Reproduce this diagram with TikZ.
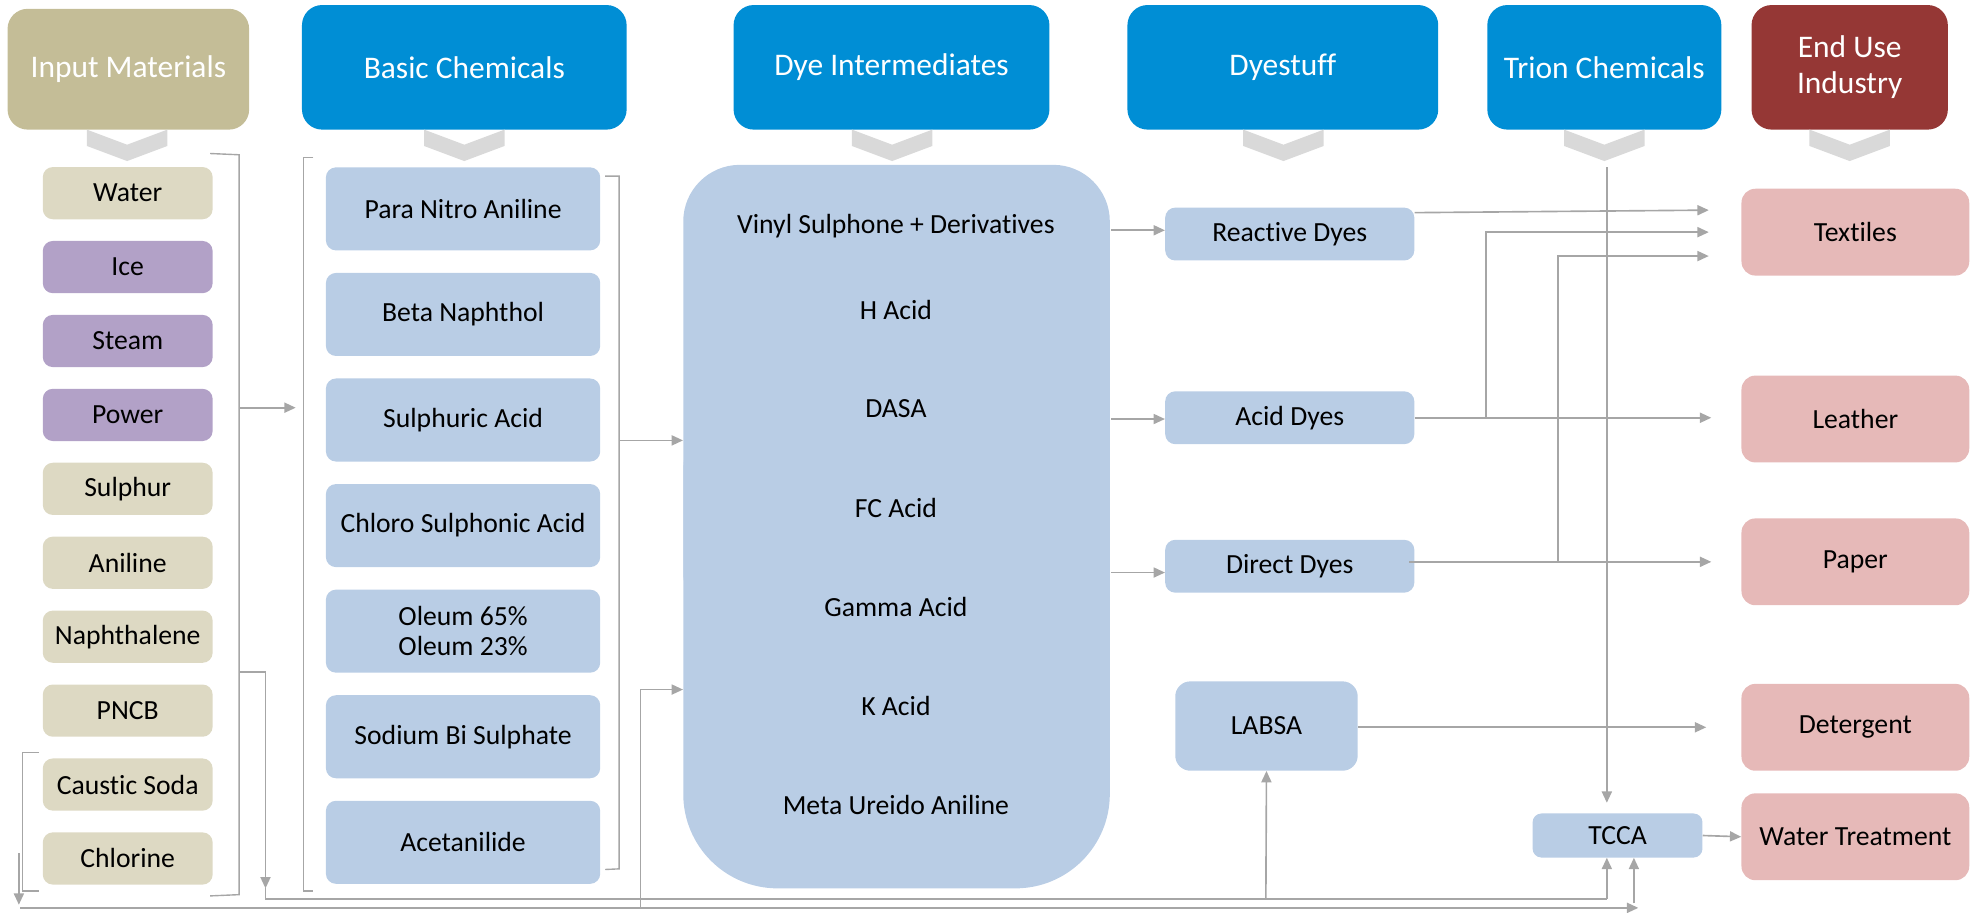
\documentclass[tikz,border=0pt]{standalone}
\usepackage{fontspec}
\setmainfont{Carlito}[Ligatures={NoCommon}]
\usetikzlibrary{arrows.meta}
\definecolor{hdrtan}{HTML}{C4BD97}
\definecolor{hdrblue}{HTML}{008ED5}
\definecolor{hdrred}{HTML}{953735}
\definecolor{tanbox}{HTML}{DDD9C3}
\definecolor{purpbox}{HTML}{B2A1C7}
\definecolor{bluebox}{HTML}{B9CDE5}
\definecolor{pinkbox}{HTML}{E6B9B8}
\definecolor{chevgray}{HTML}{D9D9D9}
\definecolor{conn}{HTML}{A6A6A6}
\begin{document}
\begin{tikzpicture}[x=1pt,y=-1pt,
 hdr/.style={rounded corners=16pt, text=white, font=\fontsize{25}{29}\selectfont, inner sep=0pt, align=center},
 item/.style={rounded corners=8pt, inner sep=0pt, align=center, font=\fontsize{22}{24}\selectfont},
 inbox/.style={item, minimum width=135pt, minimum height=41.5pt},
 bcbox/.style={item, fill=bluebox, minimum width=218pt, minimum height=66pt},
 dsbox/.style={item, fill=bluebox, minimum width=198pt, minimum height=42pt},
 eubox/.style={item, fill=pinkbox, minimum width=181pt, minimum height=69pt, rounded corners=11pt},
 dytxt/.style={inner sep=0pt, font=\fontsize{22}{24}\selectfont},
 ln/.style={draw=conn, line width=1.3pt},
 ar/.style={ln, -{Triangle[length=9pt,width=8pt]}},
 brk/.style={draw=conn, line width=1.1pt},
]
\useasboundingbox (0,0) rectangle (1568,725);

% headers
\node[hdr, fill=hdrtan, minimum width=192pt, minimum height=96pt] (hIn) at (102,55) {Input Materials};
\node[hdr, fill=hdrblue, minimum width=258pt, minimum height=99pt] (hBC) at (369,53.5) {Basic Chemicals};
\node[hdr, fill=hdrblue, minimum width=251pt, minimum height=99pt] (hDI) at (708.5,53.5) {Dye Intermediates};
\node[hdr, fill=hdrblue, minimum width=247pt, minimum height=99pt] (hDS) at (1019.5,53.5) {Dyestuff};
\node[hdr, fill=hdrblue, minimum width=186pt, minimum height=99pt] (hTC) at (1275,53.5) {Trion Chemicals};
\node[hdr, fill=hdrred, minimum width=156pt, minimum height=99pt] (hEU) at (1470,53.5) {End Use\\Industry};

% chevrons
\foreach \cx in {101,369,709,1020,1275,1470}
  \fill[chevgray] (\cx-32,103) -- (\cx,115) -- (\cx+32,103) -- (\cx+32,116) -- (\cx,128) -- (\cx-32,116) -- cycle;

% input materials
\node[inbox, fill=tanbox]  (water) at (101.5,153.5) {Water};
\node[inbox, fill=purpbox] (ice)   at (101.5,212.25) {Ice};
\node[inbox, fill=purpbox] (steam) at (101.5,271) {Steam};
\node[inbox, fill=purpbox] (power) at (101.5,329.75) {Power};
\node[inbox, fill=tanbox]  (sulphur) at (101.5,388.5) {Sulphur};
\node[inbox, fill=tanbox]  (aniline) at (101.5,447.25) {Aniline};
\node[inbox, fill=tanbox]  (naph) at (101.5,506) {Naphthalene};
\node[inbox, fill=tanbox]  (pncb) at (101.5,564.75) {PNCB};
\node[inbox, fill=tanbox]  (caustic) at (101.5,623.5) {Caustic Soda};
\node[inbox, fill=tanbox]  (chlorine) at (101.5,682.25) {Chlorine};

% basic chemicals
\node[bcbox] (pna) at (368,166) {Para Nitro Aniline};
\node[bcbox] (bn)  at (368,249.9) {Beta Naphthol};
\node[bcbox] (sa)  at (368,333.8) {Sulphuric Acid};
\node[bcbox] (csa) at (368,417.7) {Chloro Sulphonic Acid};
\node[bcbox] (ol)  at (368,501.6) {Oleum 65\%\\Oleum 23\%};
\node[bcbox] (sbs) at (368,585.5) {Sodium Bi Sulphate};
\node[bcbox] (ace) at (368,669.4) {Acetanilide};

% dye intermediates big box
\fill[bluebox, rounded corners=45pt] (543,131) rectangle (882,500);
\fill[bluebox, rounded corners=75pt] (543,300) rectangle (882,706);
\node[inner sep=0pt, minimum width=339pt, minimum height=575pt] (dye) at (712.5,418.5) {};
\node[dytxt] (vs)  at (712,180) {Vinyl Sulphone + Derivatives};
\node[dytxt] (ha)  at (712,246) {H Acid};
\node[dytxt] (dasa) at (712,325) {DASA};
\node[dytxt] (fc)  at (712,404) {FC Acid};
\node[dytxt] (ga)  at (712,482) {Gamma Acid};
\node[dytxt] (ka)  at (712,561) {K Acid};
\node[dytxt] (mua) at (712,640) {Meta Ureido Aniline};

% dyestuff
\node[dsbox] (rd) at (1025,186) {Reactive Dyes};
\node[dsbox] (ad) at (1025,332) {Acid Dyes};
\node[dsbox] (dd) at (1025,450) {Direct Dyes};
\node[item, fill=bluebox, minimum width=145pt, minimum height=71pt, rounded corners=12pt] (labsa) at (1006.5,577) {LABSA};

% trion
\node[item, fill=bluebox, minimum width=135pt, minimum height=35pt, rounded corners=7pt] (tcca) at (1285.5,664) {TCCA};

% end use
\node[eubox] (tex) at (1474.5,184.5) {Textiles};
\node[eubox] (lea) at (1474.5,333) {Leather};
\node[eubox] (pap) at (1474.5,446.5) {Paper};
\node[eubox] (det) at (1474.5,578) {Detergent};
\node[eubox] (wt)  at (1474.5,665) {Water Treatment};

% brackets
\draw[brk] (167,122) -- (190,123) -- (190,711) -- (167,712);
\draw[brk] (249,125) -- (241,125) -- (241,708) -- (249,708);
\draw[brk] (481,140) -- (492,140) -- (492,690.5) -- (481,691);
\draw[brk] (31,598) -- (18,598) -- (18,708) -- (31,708);

% named free points
\coordinate (inR) at (190,324);
\coordinate (bcL) at (235,324);
\coordinate (bcR) at (492,350);
\coordinate (inR2) at (190,534);
\coordinate (d1) at (211,706);
\coordinate (c1) at (211,714.5);
\coordinate (c1e) at (1277,714.5);
\coordinate (lab1) at (1006,714.5);
\coordinate (cs0) at (15,678);
\coordinate (cs1) at (15,719);
\coordinate (c2) at (16,721.5);
\coordinate (c2e) at (1302,721.5);
\coordinate (c2u) at (1298.5,718);
\coordinate (k0) at (509,721.5);
\coordinate (k1) at (509,548);
\coordinate (trTop) at (1277,133);
\coordinate (o1) at (883,183);
\coordinate (o2) at (883,333);
\coordinate (o3) at (883,455);

% connectors
\draw[ar] (inR) -- (bcL);
\draw[ar] (bcR) -- (bcR -| dye.west);
\draw[ar] (inR2) -| (d1);
\draw[ln] (d1) -- (c1) -- (c1e);
\draw[ar] (c1e) -- (c1e |- tcca.south);
\draw[ar] (lab1) -- (labsa.south);
\draw[ar] (cs0) -- (cs1);
\draw[ar] (c2) -- (c2e);
\draw[ar] (c2u) -- (c2u |- tcca.south);
\draw[ar] (k0) -- (k1) -- (k1 -| dye.west);

\draw[ar] (o1) -- (o1 -| rd.west);
\draw[ar] (o2) -- (o2 -| ad.west);
\draw[ar] (o3) -- (o3 -| dd.west);

\draw[ar] (rd.east |- 0,169) -- (1358,167);
\draw[ar] (ad.east) -- (1360,332);
\draw[ar] (1181,332) |- (1358,184.5);
\draw[ar] (1120,446.5) -- (1360,446.5);
\draw[ar] (1238,446.5) |- (1358,203.5);
\draw[ar] (trTop) -- (1277,638);
\draw[ar] (labsa.east |- 0,578) -- (1356,578);
\draw[ar] (tcca.east) -- (wt.west);
\end{tikzpicture}
\end{document}
